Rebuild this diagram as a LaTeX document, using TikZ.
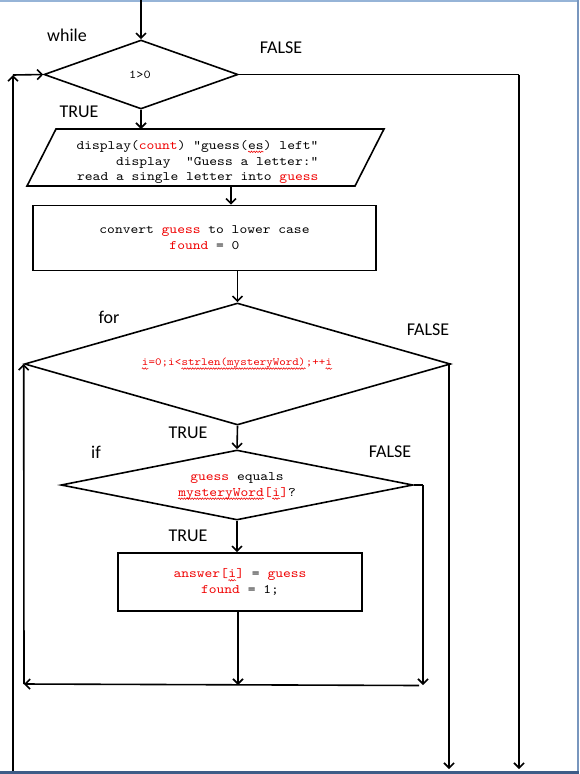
\documentclass[tikz,border=0pt]{standalone}
\usepackage{fontspec}
\usetikzlibrary{arrows.meta,shapes.geometric,decorations.pathmorphing}
\newfontfamily\labfont{Carlito}
\newfontfamily\codefont{lmmono10-regular}[Extension=.otf,FakeStretch=1.14]
\definecolor{bandblue}{RGB}{62,92,135}
\definecolor{edgeblue}{RGB}{120,150,190}
\definecolor{topblue}{RGB}{150,180,215}
\definecolor{cred}{RGB}{240,0,0}
\newcommand\sqw[1]{\tikz[baseline=(sqn.base)]{\node[inner sep=0pt,outer sep=0pt,anchor=base](sqn){#1};\draw[cred,line width=0.55pt,decorate,decoration={snake,amplitude=0.75pt,segment length=2.6pt}]([yshift=-2.6pt]sqn.base west)--([yshift=-2.6pt]sqn.base east);}}
\newcommand\rd[1]{\textcolor{cred}{#1}}
\begin{document}
\begin{tikzpicture}[x=1pt,y=-1pt,
  ln/.style={line width=1.6pt},
  arr/.style={line width=1.6pt,-{Straight Barb[length=5pt,width=10pt]}},
  lab/.style={font=\labfont\fontsize{18}{20}\selectfont,inner sep=0pt},
  code/.style={font=\codefont\fontsize{13}{15.8}\selectfont,inner sep=0pt},
  smallcode/.style={font=\codefont\fontsize{10.9}{13}\selectfont,inner sep=0pt},
  dia/.style={diamond,draw,line width=1.6pt,inner sep=0pt},
  boxn/.style={rectangle,draw,line width=1.6pt,inner sep=0pt}]
\useasboundingbox (0,0) rectangle (579,774);
\fill[white] (0,0) rectangle (579,774);
% window edges
\fill[topblue] (0,0) rectangle (579,1.5);
\fill[edgeblue] (577,0) rectangle (579,774);
\fill[bandblue] (0,770.5) rectangle (579,774);

% shapes
\node[dia,minimum width=194pt,minimum height=69pt] (wd) at (141,74.5) {};
\node[code,font=\codefont\fontsize{12}{14}\selectfont] (wt) at (140,75) {1>0};

\coordinate (p1) at (56,129);
\coordinate (p2) at (384,129);
\coordinate (p3) at (355,186);
\coordinate (p4) at (27,186);
\draw[ln,line join=miter] (p1)--(p2)--(p3)--(p4)--cycle;
\node[code,align=right] (pt) at (197.5,162) {display(\rd{count}) "guess(\sqw{es}) left"\\display\ \ "Guess a letter:“\\read a single letter into \rd{guess}};

\node[boxn,minimum width=343pt,minimum height=65pt] (r1) at (204.5,238) {};
\node[code,align=center] (r1t) at (204.5,237.5) {convert \rd{guess} to lower case\\\rd{found} = 0};

\node[dia,minimum width=426pt,minimum height=122pt] (fd) at (237.5,364) {};
\node[smallcode,text=cred] (ft) at (237,364) {\sqw{i}=0;i<\sqw{strlen(mysteryWord)};++\sqw{i}};

\node[dia,minimum width=352pt,minimum height=70pt] (id) at (237,485) {};
\node[code,align=center] (it) at (237,486) {\rd{guess} equals\\\sqw{\rd{mysteryWord}}\rd{[}\sqw{\rd{i}}\rd{]}?};

\node[boxn,minimum width=244pt,minimum height=58pt] (r2) at (240,582) {};
\node[code,align=center] (r2t) at (240,582) {\rd{answer[}\sqw{\rd{i}}\rd{]} = \rd{guess}\\\rd{found} = 1;};

% labels
\node[lab] (lwhile) at (67,35) {while};
\node[lab] (lf1) at (281,48) {FALSE};
\node[lab] (lt1) at (79,112) {TRUE};
\node[lab] (lfor) at (109,317) {for};
\node[lab] (lf2) at (428,330) {FALSE};
\node[lab] (lt2) at (188,433) {TRUE};
\node[lab] (lif) at (96,452) {if};
\node[lab] (lf3) at (390,452) {FALSE};
\node[lab] (lt3) at (188,536) {TRUE};

% coordinates
\coordinate (start) at (141,0);
\coordinate (ptop) at (141,129);
\coordinate (pbot) at (231,186);
\coordinate (wcorner) at (519,74.5);
\coordinate (wend) at (519,769);
\coordinate (lbot) at (13,771);
\coordinate (ltop) at (13,75);
\coordinate (fcorner) at (449,364);
\coordinate (fend) at (449,769);
\coordinate (icorner) at (423,485);
\coordinate (iend) at (423,685);
\coordinate (mright) at (419,685.5);
\coordinate (mleft) at (24,684);
\coordinate (mmid) at (238,685);

% connectors
\draw[arr] (start) -- (wd.north);
\draw[arr] (wd.south) -- (ptop);
\draw[ln] (wd.east) -- (wcorner);
\draw[arr] (wcorner) -- (wend);
\draw[arr] (lbot) -- (ltop);
\draw[arr] (ltop) -- (wd.west);
\draw[arr] (pbot) -- (pbot |- r1.north);
\draw[arr] (r1.south -| fd.north) -- (fd.north);
\draw[arr] (fd.south) -- (id.north);
\draw[ln] (fd.east) -- (fcorner);
\draw[arr] (fcorner) -- (fend);
\draw[ln] (id.east) -- (icorner);
\draw[arr] (icorner) -- (iend);
\draw[arr] (id.south) -- (id.south |- r2.north);
\draw[arr] (mmid |- r2.south) -- (mmid);
\draw[arr] (mright) -- (mleft);
\draw[arr] (mleft) -- (fd.west);
\end{tikzpicture}
\end{document}
